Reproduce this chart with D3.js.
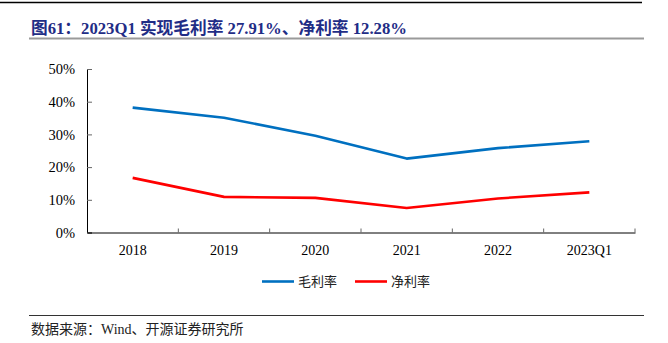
<!DOCTYPE html>
<html><head><meta charset="utf-8">
<script src="https://cdn.jsdelivr.net/npm/d3@7"></script>
<style>body{margin:0;background:#fff}svg{display:block}</style>
</head><body>
<script>
const categories = ["2018","2019","2020","2021","2022","2023Q1"];
const grossMargin = [38.2, 35.1, 29.6, 22.6, 25.8, 27.91];
const netMargin = [16.7, 10.9, 10.6, 7.5, 10.4, 12.28];
const seriesNames = ["毛利率","净利率"];
const yTicks = [0,10,20,30,40,50];
const titleText = "图61：2023Q1 实现毛利率 27.91%、净利率 12.28%";
const sourceText = "数据来源：Wind、开源证券研究所";

(function(){
const W = 668, H = 343;
const svg = d3.select("body").append("svg").attr("width", W).attr("height", H);
const serif = "'Liberation Serif','Times New Roman','Noto Sans CJK SC',serif";

// header lines
svg.append("line").attr("x1",0).attr("x2",642).attr("y1",2.5).attr("y2",2.5).attr("stroke","#000").attr("stroke-width",1.5);
svg.append("text").attr("x",31).attr("y",33.5).attr("fill","#1f2d86").attr("font-weight","bold")
  .attr("font-size",16.7).attr("font-family",serif).text(titleText);
svg.append("line").attr("x1",29).attr("x2",644).attr("y1",38.5).attr("y2",38.5).attr("stroke","#9a9a9a").attr("stroke-width",2);

const pl = 87, pr = 635, pt = 69, pb = 232.5;
const x = d3.scaleBand().domain(categories).range([pl,pr]);
const y = d3.scaleLinear().domain([0,50]).range([pb,pt]);

// y axis
const yAxis = svg.append("g").attr("transform",`translate(${pl},0)`)
  .call(d3.axisLeft(y).tickValues(yTicks).tickSize(-5).tickPadding(12).tickFormat(d=>d+"%"));
yAxis.select(".domain").attr("stroke","#000");
yAxis.selectAll(".tick line").attr("stroke","#666");
yAxis.selectAll("text").attr("font-family",serif).attr("font-size",14.5).attr("fill","#000");

// x axis
const xAxis = svg.append("g").attr("transform",`translate(0,${pb})`)
  .call(d3.axisBottom(x).tickSize(0).tickPadding(13));
xAxis.select(".domain").attr("stroke","#000");
xAxis.selectAll("text").attr("font-family",serif).attr("font-size",14).attr("fill","#000");
const edges = categories.map(c=>x(c)+x.bandwidth());
xAxis.selectAll(".edge").data(edges).enter().append("line")
  .attr("x1",d=>d).attr("x2",d=>d).attr("y1",0).attr("y2",-4).attr("stroke","#666");

const line = d3.line().x((d,i)=>x(categories[i])+x.bandwidth()/2).y(d=>y(d));
const colors = ["#0070C0","#FF0000"];
[grossMargin, netMargin].forEach((s,k)=>{
  svg.append("path").datum(s).attr("d",line).attr("fill","none")
    .attr("stroke",colors[k]).attr("stroke-width",2.6).attr("stroke-linejoin","round");
});

// legend
const lg = [{x:262, tx:298},{x:355, tx:391}];
lg.forEach((p,k)=>{
  svg.append("line").attr("x1",p.x).attr("x2",p.x+32).attr("y1",281.5).attr("y2",281.5)
    .attr("stroke",colors[k]).attr("stroke-width",2.6);
  svg.append("text").attr("x",p.tx).attr("y",286).attr("font-size",13)
    .attr("font-family","'Noto Sans CJK SC',sans-serif").attr("fill","#222").text(seriesNames[k]);
});

// footer
svg.append("line").attr("x1",29).attr("x2",644).attr("y1",315.5).attr("y2",315.5).attr("stroke","#333").attr("stroke-width",1);
svg.append("text").attr("x",31).attr("y",334).attr("font-size",14).attr("font-family",serif)
  .attr("fill","#222").text(sourceText);
})();
</script>
</body></html>
